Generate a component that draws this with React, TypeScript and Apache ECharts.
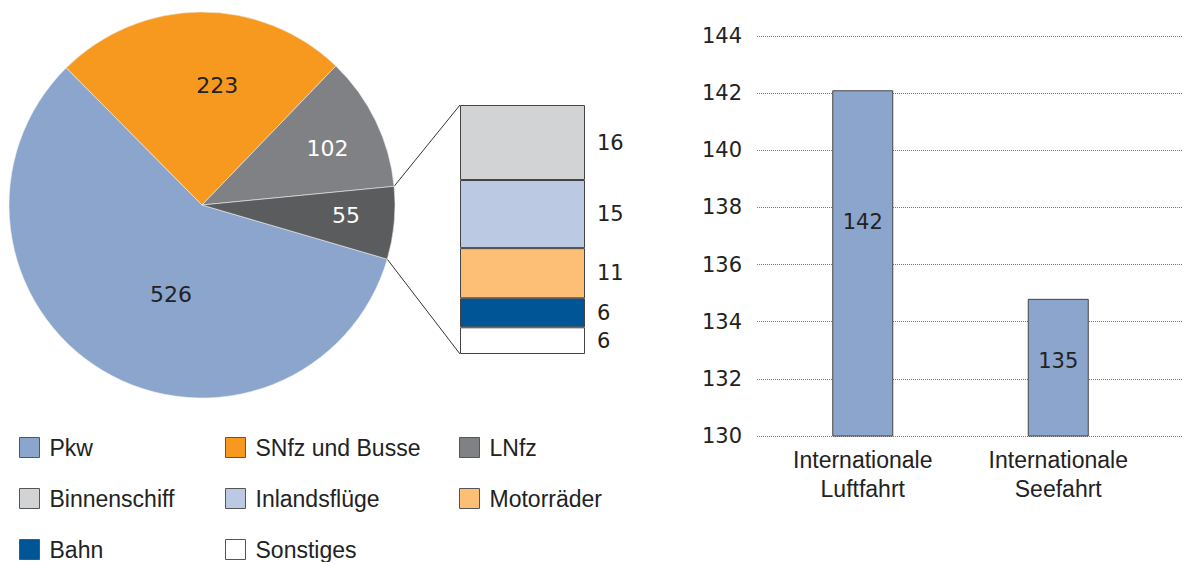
import React, { useEffect, useRef } from 'react';
import * as echarts from 'echarts';

// ---- data ----
const pieCategories = ['Pkw', 'SNfz und Busse', 'LNfz', 'Übrige'];
const pieValues = [526, 223, 102, 55];
const stackCategories = ['Sonstiges', 'Bahn', 'Motorräder', 'Inlandsflüge', 'Binnenschiff'];
const stackValues = [5.8, 6.3, 10.9, 14.8, 16.3];
const barCategories = ['Internationale\nLuftfahrt', 'Internationale\nSeefahrt'];
const barValues = [142.1, 134.8];
const yMin = 130;
const yMax = 144;
const yStep = 2;
const legendColumns = [
  ['Pkw', 'Binnenschiff', 'Bahn'],
  ['SNfz und Busse', 'Inlandsflüge', 'Sonstiges'],
  ['LNfz', 'Motorräder'],
];

// ---- styles ----
const pieColors = ['#8BA5CD', '#F7991E', '#808184', '#5B5C5E'];
const pieLabelColors = ['#222', '#222', '#fff', '#fff'];
const pieLabelShift = [[20, 4], [16, -20], [36, -13], [45, 1]];
const stackColors = ['#FFFFFF', '#005596', '#FDBE76', '#BCC9E2', '#D1D3D4'];
const barLabelShift = [-41, -7];
const WORD_FONT = '"Liberation Sans", Arial, sans-serif';
const NUM_FONT = '"DejaVu Sans", sans-serif';

const PIE_CX = 202;
const PIE_CY = 205;
const PIE_R = 193;
const PIE_START = 343.7;
const ST_LEFT = 460;
const ST_TOP = 105;
const ST_W = 125;
const ST_H = 249;

export default function App() {
  const ref = useRef<HTMLDivElement>(null);
  useEffect(() => {
    if (!ref.current) return;
    const chart = echarts.init(ref.current, undefined, { renderer: 'svg' });

    const total = pieValues.reduce((a, b) => a + b, 0);
    const last = pieValues[pieValues.length - 1];
    const a1 = ((PIE_START - ((total - last) / total) * 360) * Math.PI) / 180;
    const a2 = ((PIE_START - 360) * Math.PI) / 180;
    const p1 = [PIE_CX + PIE_R * Math.cos(a1), PIE_CY - PIE_R * Math.sin(a1)];
    const p2 = [PIE_CX + PIE_R * Math.cos(a2), PIE_CY - PIE_R * Math.sin(a2)];
    const stackTotal = stackValues.reduce((a, b) => a + b, 0);

    const legends = legendColumns.map((col, i) => ({
      data: col,
      orient: 'vertical',
      left: [19, 225, 459][i],
      top: 436,
      height: 200,
      itemWidth: 20,
      itemHeight: 20,
      itemGap: 28,
      padding: 0,
      icon: 'rect',
      selectedMode: false,
      itemStyle: { borderColor: '#555', borderWidth: 1 },
      textStyle: {
        fontSize: 23,
        lineHeight: 23,
        color: '#222',
        fontFamily: WORD_FONT,
        padding: [0, 0, 0, 5],
      },
    }));

    const option: any = {
      animation: false,
      backgroundColor: '#fff',
      legend: legends,
      grid: [
        { left: ST_LEFT, top: ST_TOP, width: ST_W, height: ST_H },
        { left: 765, top: 36, width: 391, height: 400 },
        { left: 757, top: 36, width: 425, height: 400 },
      ],
      xAxis: [
        { type: 'category', gridIndex: 0, data: ['Übrige'], show: false },
        {
          type: 'category',
          gridIndex: 1,
          data: barCategories,
          axisLine: { show: false },
          axisTick: { show: false },
          axisLabel: {
            fontSize: 23,
            lineHeight: 29,
            color: '#222',
            fontFamily: WORD_FONT,
            margin: 9,
          },
        },
        { type: 'value', gridIndex: 2, show: false, min: 0, max: 1 },
      ],
      yAxis: [
        { type: 'value', gridIndex: 0, min: 0, max: stackTotal, show: false },
        {
          type: 'value',
          gridIndex: 1,
          min: yMin,
          max: yMax,
          interval: yStep,
          axisLabel: { show: false },
          axisLine: { show: false },
          axisTick: { show: false },
          splitLine: { show: false },
        },
        {
          type: 'value',
          gridIndex: 2,
          min: yMin,
          max: yMax,
          interval: yStep,
          axisLine: { show: false },
          axisTick: { show: false },
          axisLabel: { fontSize: 21, color: '#222', fontFamily: NUM_FONT, margin: 15 },
          splitLine: { show: true, lineStyle: { type: 'dotted', color: '#777', width: 1 } },
        },
      ],
      graphic: [
        {
          type: 'line',
          shape: { x1: p1[0], y1: p1[1], x2: ST_LEFT, y2: ST_TOP },
          style: { stroke: '#333', lineWidth: 1 },
        },
        {
          type: 'line',
          shape: { x1: p2[0], y1: p2[1], x2: ST_LEFT, y2: ST_TOP + ST_H },
          style: { stroke: '#333', lineWidth: 1 },
        },
      ],
      series: [
        {
          type: 'pie',
          center: [PIE_CX, PIE_CY],
          radius: PIE_R,
          startAngle: PIE_START,
          clockwise: true,
          emphasis: { disabled: true },
          itemStyle: { borderColor: '#eee', borderWidth: 0.6 },
          labelLine: { show: false },
          label: {
            show: true,
            position: 'inside',
            fontSize: 22,
            fontFamily: NUM_FONT,
            formatter: (p: any) => String(Math.round(p.value)),
          },
          labelLayout: (p: any) => ({
            dx: pieLabelShift[p.dataIndex][0],
            dy: pieLabelShift[p.dataIndex][1],
          }),
          data: pieCategories.map((name, i) => ({
            name,
            value: pieValues[i],
            itemStyle: { color: pieColors[i] },
            label: { color: pieLabelColors[i] },
          })),
        },
        ...stackCategories.map((name, i) => ({
          type: 'bar',
          name,
          stack: 'rest',
          xAxisIndex: 0,
          yAxisIndex: 0,
          barWidth: '100%',
          emphasis: { disabled: true },
          itemStyle: { color: stackColors[i], borderColor: '#444', borderWidth: 1 },
          label: {
            show: true,
            position: 'right',
            distance: 12,
            fontSize: 21,
            color: '#222',
            fontFamily: NUM_FONT,
            formatter: (p: any) => String(Math.round(p.value)),
          },
          data: [stackValues[i]],
        })),
        {
          type: 'bar',
          name: 'International',
          xAxisIndex: 1,
          yAxisIndex: 1,
          barWidth: 61,
          emphasis: { disabled: true },
          itemStyle: { color: '#8BA5CC', borderColor: '#444', borderWidth: 1 },
          label: {
            show: true,
            position: 'inside',
            fontSize: 21,
            color: '#222',
            fontFamily: NUM_FONT,
            formatter: (p: any) => String(Math.round(p.value)),
          },
          data: barValues.map((v, i) => ({
            value: v,
            label: { offset: [0, barLabelShift[i]] },
          })),
        },
      ],
    };
    chart.setOption(option);
    return () => chart.dispose();
  }, []);
  return (
    <div
      ref={ref}
      style={{ position: 'absolute', left: 0, top: 0, width: 1184, height: 562, background: '#fff' }}
    />
  );
}
